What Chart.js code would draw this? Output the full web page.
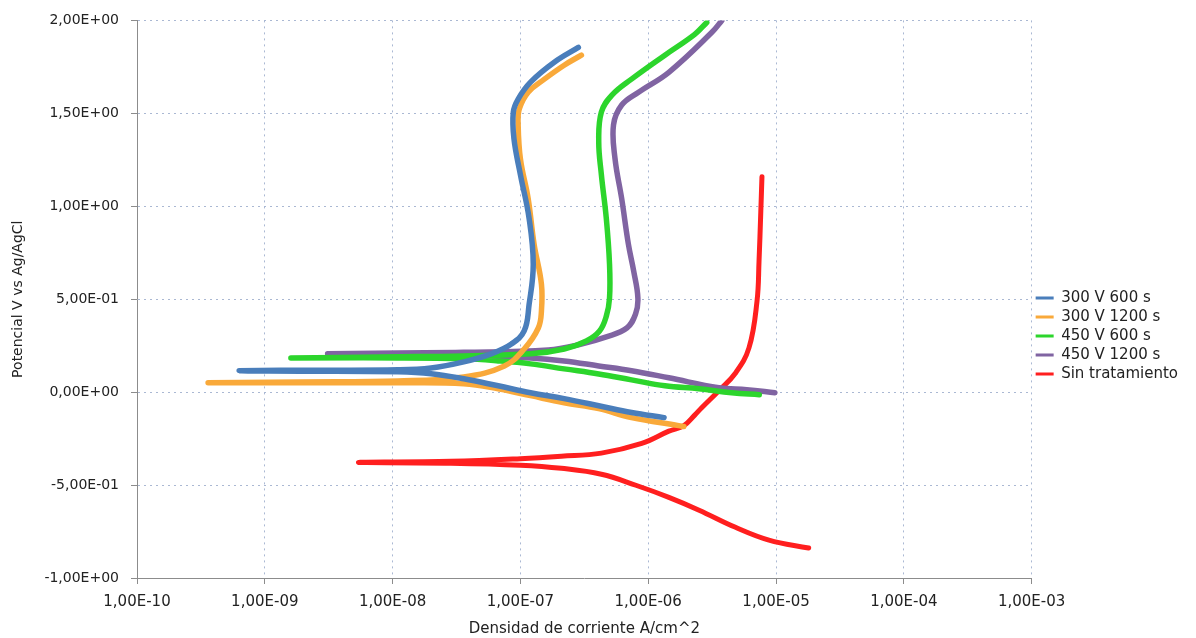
<!DOCTYPE html>
<html>
<head>
<meta charset="utf-8">
<script src="https://cdn.jsdelivr.net/npm/chart.js@4.4.1/dist/chart.umd.min.js"></script>
<style>
  html, body { margin: 0; padding: 0; background: #fff; }
  #wrap { width: 1196px; height: 638px; }
</style>
</head>
<body>
<div id="wrap"><canvas id="tafelChart"></canvas></div>
<script>
// Curvas de polarización: corriente (A/cm^2) y potencial (V vs Ag/AgCl)
// cada serie va de la rama catódica (abajo a la derecha) a la punta y luego sube por la anódica
const seriesNames = ['300 V 600 s', '300 V 1200 s', '450 V 600 s', '450 V 1200 s', 'Sin tratamiento'];

const i300_600 = [1.33e-6, 7.4e-7, 4.1e-7, 2.2e-7, 1.2e-7, 6.7e-8, 3.6e-8, 2.0e-8, 1.1e-8, 1.9e-9, 6.3e-10,
  1.9e-9, 1.1e-8, 2.0e-8, 3.6e-8, 5.9e-8, 8.5e-8, 1.07e-7, 1.17e-7, 1.26e-7, 1.17e-7, 1.0e-7, 8.9e-8, 8.8e-8, 9.6e-8, 1.2e-7, 1.84e-7, 2.84e-7];
const e300_600 = [-0.137, -0.110, -0.073, -0.035, -0.003, 0.034, 0.072, 0.099, 0.109, 0.113, 0.115,
  0.118, 0.120, 0.130, 0.163, 0.206, 0.259, 0.329, 0.473, 0.688, 0.934, 1.170, 1.363, 1.507, 1.577, 1.668, 1.775, 1.855];

const i300_1200 = [1.9e-6, 1.73e-6, 7.4e-7, 4.1e-7, 2.2e-7, 1.2e-7, 6.7e-8, 3.6e-8, 1.1e-8, 1.9e-9, 3.6e-10,
  1.9e-9, 1.1e-8, 3.6e-8, 7.5e-8, 1.07e-7, 1.38e-7, 1.46e-7, 1.46e-7, 1.28e-7, 1.15e-7, 1.0e-7, 9.6e-8, 9.8e-8, 1.15e-7, 1.54e-7, 2.2e-7, 3.0e-7];
const e300_1200 = [-0.185, -0.180, -0.137, -0.089, -0.057, -0.019, 0.018, 0.045, 0.050, 0.050, 0.050,
  0.055, 0.060, 0.082, 0.141, 0.232, 0.345, 0.436, 0.581, 0.795, 1.041, 1.255, 1.438, 1.523, 1.614, 1.684, 1.759, 1.813];

const i450_600 = [7.4e-6, 4.5e-6, 2.49e-6, 1.35e-6, 7.4e-7, 4.1e-7, 2.2e-7, 1.2e-7, 6.7e-8, 3.6e-8, 1.1e-8, 1.6e-9,
  1.1e-8, 3.6e-8, 1.2e-7, 2.2e-7, 3.28e-7, 4.16e-7, 4.7e-7, 4.98e-7, 4.98e-7, 4.7e-7, 4.3e-7, 4.1e-7, 4.3e-7, 5.2e-7, 7.4e-7, 1.35e-6, 2.31e-6, 2.87e-6];
const e450_600 = [-0.014, -0.003, 0.018, 0.034, 0.066, 0.098, 0.125, 0.152, 0.168, 0.179, 0.184, 0.184,
  0.190, 0.195, 0.206, 0.232, 0.275, 0.329, 0.409, 0.506, 0.688, 0.934, 1.170, 1.347, 1.507, 1.598, 1.684, 1.813, 1.925, 1.989];

const i450_1200 = [9.8e-6, 5.9e-6, 3.57e-6, 1.45e-6, 7.4e-7, 4.1e-7, 2.2e-7, 1.2e-7, 3.6e-8, 1.1e-8, 3.1e-9,
  1.1e-8, 3.6e-8, 1.65e-7, 3.0e-7, 4.7e-7, 6.8e-7, 7.96e-7, 8.3e-7, 7.7e-7, 7.0e-7, 6.2e-7, 5.5e-7, 5.35e-7, 6.2e-7, 8.4e-7, 1.45e-6, 3.15e-6, 3.77e-6];
const e450_1200 = [-0.003, 0.013, 0.024, 0.077, 0.115, 0.141, 0.168, 0.184, 0.200, 0.206, 0.206,
  0.211, 0.214, 0.227, 0.259, 0.297, 0.345, 0.420, 0.506, 0.650, 0.795, 1.041, 1.255, 1.438, 1.545, 1.614, 1.721, 1.936, 2.0];

const iSin = [1.8e-5, 8.8e-6, 4.77e-6, 2.5e-6, 1.45e-6, 8.0e-7, 4.3e-7, 2.09e-7, 1.0e-7, 2.86e-8, 5.4e-9,
  2.86e-8, 1.0e-7, 2.09e-7, 4.3e-7, 8.9e-7, 1.45e-6, 1.9e-6, 2.3e-6, 2.62e-6, 3.57e-6, 4.77e-6, 6.14e-6, 7.1e-6, 7.36e-6, 7.6e-6, 7.76e-6];
const eSin = [-0.839, -0.796, -0.726, -0.635, -0.566, -0.501, -0.442, -0.410, -0.393, -0.382, -0.378,
  -0.372, -0.358, -0.345, -0.328, -0.276, -0.210, -0.180, -0.125, -0.084, 0.008, 0.099, 0.238, 0.490, 0.704, 0.972, 1.159];

const xTickValues = [1e-10, 1e-9, 1e-8, 1e-7, 1e-6, 1e-5, 1e-4, 1e-3];

const colors = ['#4a7ebb', '#f9a93a', '#2cd52c', '#8064a2', '#ff1f1f'];
const currents = [i300_600, i300_1200, i450_600, i450_1200, iSin];
const potentials = [e300_600, e300_1200, e450_600, e450_1200, eSin];

// formato tipo Excel: 1,00E-10
function sciLabel(v) {
    if (Math.abs(v) < 1e-12) return '0,00E+00';
    const e = Math.floor(Math.log10(Math.abs(v)) + 1e-9);
    const m = v / Math.pow(10, e);
    return m.toFixed(2).replace('.', ',') + 'E' + (e < 0 ? '-' : '+') + String(Math.abs(e)).padStart(2, '0');
}

Chart.defaults.font.family = "'DejaVu Sans', sans-serif";
Chart.defaults.font.size = 14;
Chart.defaults.color = '#222';

const datasets = seriesNames.map((name, k) => ({
    label: name,
    data: currents[k].map((c, j) => ({ x: c, y: potentials[k][j] })),
    borderColor: colors[k],
    backgroundColor: colors[k],
    borderWidth: k === 4 ? 5 : 5.5,
    pointRadius: 0,
    showLine: true,
    tension: 0.4,
    borderCapStyle: 'round',
    borderJoinStyle: 'round'
}));

const ctx = document.getElementById('tafelChart').getContext('2d');
const chart = new Chart(ctx, {
    type: 'scatter',
    data: { datasets: datasets },
    options: {
        responsive: true,
        maintainAspectRatio: false,
        animation: false,
        layout: { padding: { top: 18, right: 8, bottom: 0, left: 0 } },
        plugins: {
            tooltip: { enabled: false },
            legend: {
                position: 'right',
                title: { display: true, text: '', font: { size: 10 }, padding: 2 },
                labels: {
                    boxWidth: 18,
                    boxHeight: 3,
                    padding: 4,
                    color: '#222',
                    font: { size: 15 },
                    generateLabels: (c) => {
                        const items = Chart.defaults.plugins.legend.labels.generateLabels(c);
                        items.forEach(it => { it.lineWidth = 0; });
                        return items;
                    }
                }
            }
        },
        scales: {
            x: {
                type: 'logarithmic',
                min: 1e-10,
                max: 1e-3,
                afterBuildTicks: (axis) => { axis.ticks = xTickValues.map(v => ({ value: v })); },
                afterFit: (axis) => { axis.height = 60; },
                ticks: {
                    callback: (v) => sciLabel(v),
                    maxRotation: 0,
                    autoSkip: false,
                    padding: 9,
                    color: '#222',
                    font: { size: 15 }
                },
                grid: {
                    color: '#aab8d3',
                    tickColor: '#8c8c8c',
                    tickLength: 6,
                    tickBorderDash: []
                },
                border: { color: '#8c8c8c', dash: [2, 4] },
                title: {
                    display: true,
                    text: 'Densidad de corriente A/cm^2',
                    color: '#222',
                    font: { size: 15 },
                    padding: { top: 0, bottom: 0 }
                }
            },
            y: {
                type: 'linear',
                min: -1,
                max: 2,
                afterFit: (axis) => { axis.width = 137; },
                ticks: {
                    stepSize: 0.5,
                    callback: (v) => sciLabel(v),
                    padding: 12,
                    color: '#222'
                },
                grid: {
                    color: '#aab8d3',
                    tickColor: '#8c8c8c',
                    tickLength: 6,
                    tickBorderDash: []
                },
                border: { color: '#8c8c8c', dash: [2, 4] },
                title: {
                    display: true,
                    text: 'Potencial V vs Ag/AgCl',
                    color: '#222',
                    padding: { top: 10, bottom: 0 }
                }
            }
        }
    }
});
</script>
</body>
</html>
